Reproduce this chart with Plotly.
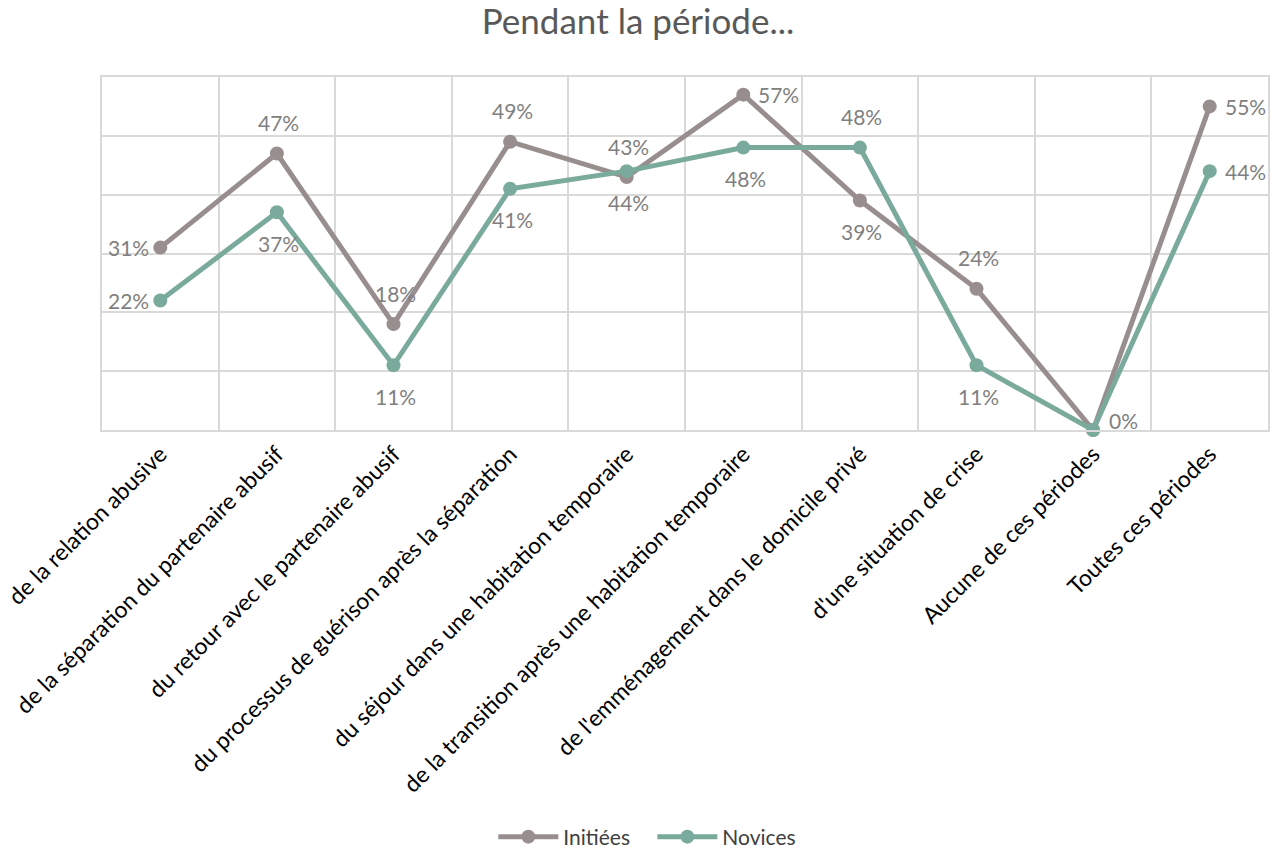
import plotly.graph_objects as go

categories = [
    "de la relation abusive",
    "de la séparation du partenaire abusif",
    "du retour avec le partenaire abusif",
    "du processus de guérison après la séparation",
    "du séjour dans une habitation temporaire",
    "de la transition après une habitation temporaire",
    "de l'emménagement dans le domicile privé",
    "d'une situation de crise",
    "Aucune de ces périodes",
    "Toutes ces périodes",
]
initiees = [31, 47, 18, 49, 43, 57, 39, 24, 0, 55]
novices = [22, 37, 11, 41, 44, 48, 48, 11, 0, 44]

# label placement (style): L=left, R=right, T=top, B=bottom
pos_init = ["L", "T", "T", "T", "T", "R", "B", "T", None, "R"]
pos_nov = ["L", "B", "B", "B", "B", "B", "T", "B", "R0", "R"]

FONT = "Lato, Carlito, Calibri, sans-serif"
C_INIT = "#998e8e"
C_NOV = "#7aaa9c"
LBL = "#7f7f7f"

fig = go.Figure()
for name, vals, col in [("Initiées", initiees, C_INIT), ("Novices", novices, C_NOV)]:
    fig.add_trace(go.Scatter(
        x=categories, y=vals, name=name, mode="lines+markers",
        line=dict(color=col, width=5), marker=dict(size=14, color=col),
        cliponaxis=False,
    ))

def add_labels(vals, poss):
    for c, v, p in zip(categories, vals, poss):
        if p is None:
            continue
        kw = dict(x=c, y=v, text=f"{v}%", showarrow=False,
                  font=dict(size=21, color=LBL, family=FONT))
        if p == "L":
            kw.update(xanchor="right", yanchor="middle", xshift=-9)
        elif p == "R":
            kw.update(xanchor="left", yanchor="middle", xshift=13)
        elif p == "R0":
            kw.update(xanchor="left", yanchor="middle", xshift=14, yshift=10)
        elif p == "T":
            kw.update(xanchor="center", yanchor="middle", yshift=31, xshift=2)
        elif p == "B":
            kw.update(xanchor="center", yanchor="middle", yshift=-31, xshift=2)
        fig.add_annotation(**kw)

add_labels(initiees, pos_init)
add_labels(novices, pos_nov)

fig.update_layout(
    width=1276, height=850,
    margin=dict(l=102, r=8, t=77, b=420, autoexpand=False),
    paper_bgcolor="white", plot_bgcolor="white",
    font=dict(family=FONT, color="#404040", size=21),
    title=dict(text="Pendant la période...", x=0.5, xanchor="center",
               y=1 - 22 / 850, yanchor="middle",
               font=dict(size=35, color="#595959", family=FONT)),
    showlegend=True,
    legend=dict(orientation="h", x=0.472, xanchor="center",
                yref="container", y=(850 - 837) / 850, yanchor="middle",
                itemwidth=60, entrywidth=84,
                font=dict(size=21, color="#404040", family=FONT)),
    xaxis=dict(type="category", tickson="boundaries", range=[-0.5, 9.5],
               showgrid=True, gridcolor="#d9d9d9", gridwidth=1.5, tickangle=-45,
               showline=True, mirror=True, linecolor="#d9d9d9", linewidth=1.5,
               ticks="", automargin=False,
               tickfont=dict(size=23, color="#000000", family=FONT)),
    yaxis=dict(range=[0, 60], dtick=10, showticklabels=False, showgrid=True,
               gridcolor="#d9d9d9", gridwidth=1.5, zeroline=False,
               showline=True, mirror=True, linecolor="#d9d9d9", linewidth=1.5),
)

fig.write_html("out.html")
